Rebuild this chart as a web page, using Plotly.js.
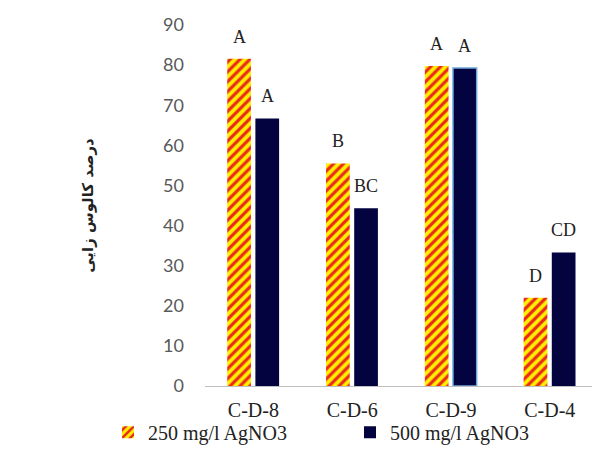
<!DOCTYPE html>
<html>
<head>
<meta charset="utf-8">
<script src="https://cdn.plot.ly/plotly-3.0.1.min.js"></script>
<style>html,body{margin:0;padding:0;background:#fff;}#chart{width:592px;height:465px;}</style>
</head>
<body>
<div id="chart"></div>
<script>
const categories = ['C-D-8', 'C-D-6', 'C-D-9', 'C-D-4'];
const series250 = [81.6, 55.5, 79.8, 22.0];
const series500 = [66.7, 44.3, 79.3, 33.3];
const letters250 = ['A', 'B', 'A', 'D'];
const letters500 = ['A', 'BC', 'A', 'CD'];
const seriesNames = ['250 mg/l AgNO3', '500 mg/l AgNO3'];
const yTitle = 'درصد کالوس زایی';

const barW = 0.24, off250 = -0.265, off500 = 0.02;

const traces = [
  {
    type: 'bar', name: seriesNames[0], x: categories, y: series250,
    width: barW, offset: off250,
    marker: { color: '#FFF000', line: { width: 0 },
      pattern: { shape: '/', fgcolor: '#E8281C', bgcolor: '#FFF000', size: 7, solidity: 0.45, fillmode: 'replace' } }
  },
  {
    type: 'bar', name: seriesNames[1], x: categories, y: series500,
    width: barW, offset: off500,
    marker: { color: '#03033F',
      line: { width: [0, 0, 1.5, 0], color: ['#03033F', '#03033F', '#6FA8DC', '#03033F'] } }
  }
];

const annotations = [];
categories.forEach((c, i) => {
  annotations.push({ x: i + off250 + barW / 2, y: series250[i], xref: 'x', yref: 'y', text: letters250[i],
    showarrow: false, yanchor: 'bottom', yshift: 10, font: { family: 'Liberation Serif', size: 18, color: '#222' } });
  annotations.push({ x: i + off500 + barW / 2, y: series500[i], xref: 'x', yref: 'y', text: letters500[i],
    showarrow: false, yanchor: 'bottom', yshift: 10, font: { family: 'Liberation Serif', size: 18, color: '#222' } });
});

const layout = {
  width: 592, height: 465,
  margin: { l: 205, r: 0, t: 25, b: 79 },
  paper_bgcolor: '#ffffff', plot_bgcolor: '#ffffff',
  showlegend: true,
  legend: { orientation: 'h', x: -0.243, xanchor: 'left', y: -0.128, yanchor: 'middle',
    bgcolor: 'rgba(0,0,0,0)',
    font: { family: 'Liberation Serif', size: 20, color: '#222' },
    entrywidth: 197, entrywidthmode: 'pixels', itemwidth: 30, traceorder: 'normal' },
  xaxis: {
    type: 'category', range: [-0.49, 3.427],
    showline: true, linecolor: '#bfbfbf', linewidth: 1,
    ticks: '', showgrid: false, zeroline: false,
    tickfont: { family: 'Liberation Serif', size: 20, color: '#222' },
    ticklabelstandoff: 6
  },
  yaxis: {
    range: [0, 90], dtick: 10, tick0: 0,
    showline: false, showgrid: false, zeroline: false, ticks: '',
    tickfont: { family: 'Lato', size: 18, color: '#595959' },
    ticklabelstandoff: 20,
    title: { text: yTitle, font: { family: 'DejaVu Sans', size: 15, color: '#222', weight: 'bold' }, standoff: 65 }
  },
  annotations: annotations
};

Plotly.newPlot('chart', traces, layout, { staticPlot: true, displayModeBar: false });
</script>
</body>
</html>
